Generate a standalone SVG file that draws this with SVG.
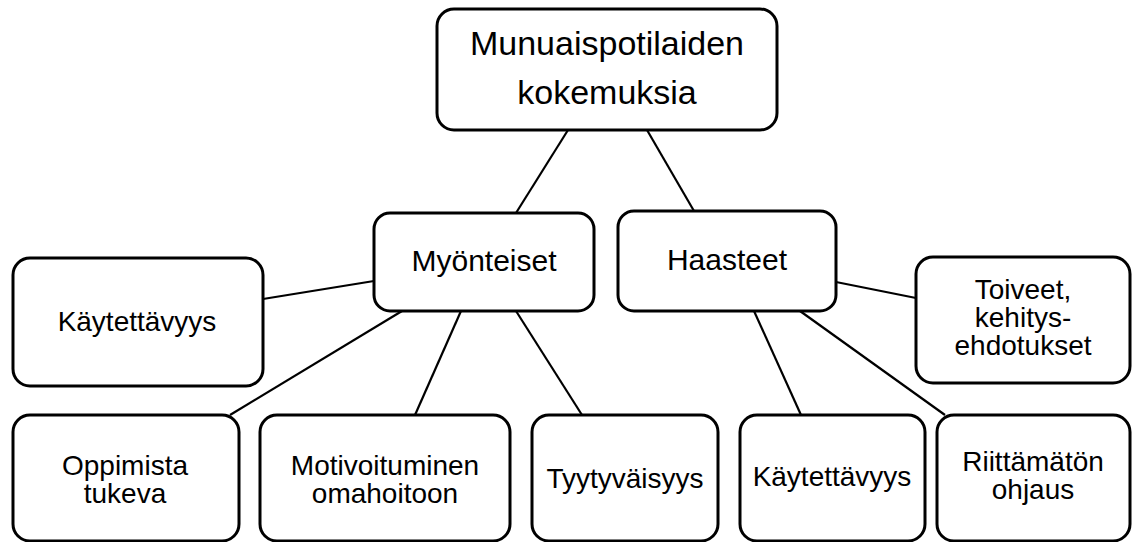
<svg xmlns="http://www.w3.org/2000/svg" width="1132" height="542" viewBox="0 0 1132 542">
<style>
.box{fill:#fff;stroke:#000;stroke-width:3}
.t{font-family:"Liberation Sans",Arial,sans-serif;font-size:28px;fill:#000;text-anchor:middle}
.big{font-size:30px}
.top{font-size:34px}
.c line{stroke:#000;stroke-width:2.2}
</style>
<rect width="1132" height="542" fill="#fff"/>
<g class="c" id="connectors">
<line x1="568" y1="130" x2="516" y2="213"/>
<line x1="647" y1="130" x2="694" y2="211"/>
<line x1="374" y1="281" x2="263" y2="299"/>
<line x1="402" y1="311" x2="230" y2="415"/>
<line x1="461" y1="311" x2="415" y2="415"/>
<line x1="516" y1="311" x2="582" y2="415"/>
<line x1="836" y1="282" x2="916" y2="298"/>
<line x1="754" y1="311" x2="801" y2="415"/>
<line x1="800" y1="311" x2="945" y2="415"/>
</g>
<g id="root">
<rect class="box" x="437" y="9" width="340" height="121" rx="17"/>
<text class="t top" x="607" y="55">Munuaispotilaiden</text>
<text class="t top" x="607" y="104">kokemuksia</text>
</g>
<g id="myonteiset">
<rect class="box" x="374" y="213" width="220" height="98" rx="16"/>
<text class="t big" x="484" y="271">Myönteiset</text>
</g>
<g id="haasteet">
<rect class="box" x="618" y="211" width="218" height="100" rx="16"/>
<text class="t big" x="727" y="270">Haasteet</text>
</g>
<g id="kaytettavyys1">
<rect class="box" x="13" y="258" width="250" height="128" rx="17"/>
<text class="t" x="137" y="331">Käytettävyys</text>
</g>
<g id="toiveet">
<rect class="box" x="916" y="257" width="214" height="126" rx="17"/>
<text class="t" x="1023" y="299">Toiveet,</text>
<text class="t" x="1023" y="327">kehitys-</text>
<text class="t" x="1023" y="355">ehdotukset</text>
</g>
<g id="oppimista">
<rect class="box" x="13" y="415" width="226" height="126" rx="17"/>
<text class="t" x="125" y="475">Oppimista</text>
<text class="t" x="125" y="503">tukeva</text>
</g>
<g id="motivoituminen">
<rect class="box" x="260" y="415" width="250" height="126" rx="17"/>
<text class="t" x="385" y="475">Motivoituminen</text>
<text class="t" x="385" y="503">omahoitoon</text>
</g>
<g id="tyytyvaisyys">
<rect class="box" x="532" y="415" width="186" height="126" rx="17"/>
<text class="t" x="625" y="488">Tyytyväisyys</text>
</g>
<g id="kaytettavyys2">
<rect class="box" x="740" y="415" width="185" height="126" rx="17"/>
<text class="t" x="832" y="486">Käytettävyys</text>
</g>
<g id="riittamaton">
<rect class="box" x="937" y="415" width="193" height="126" rx="17"/>
<text class="t" x="1033" y="471">Riittämätön</text>
<text class="t" x="1033" y="499">ohjaus</text>
</g>
</svg>
